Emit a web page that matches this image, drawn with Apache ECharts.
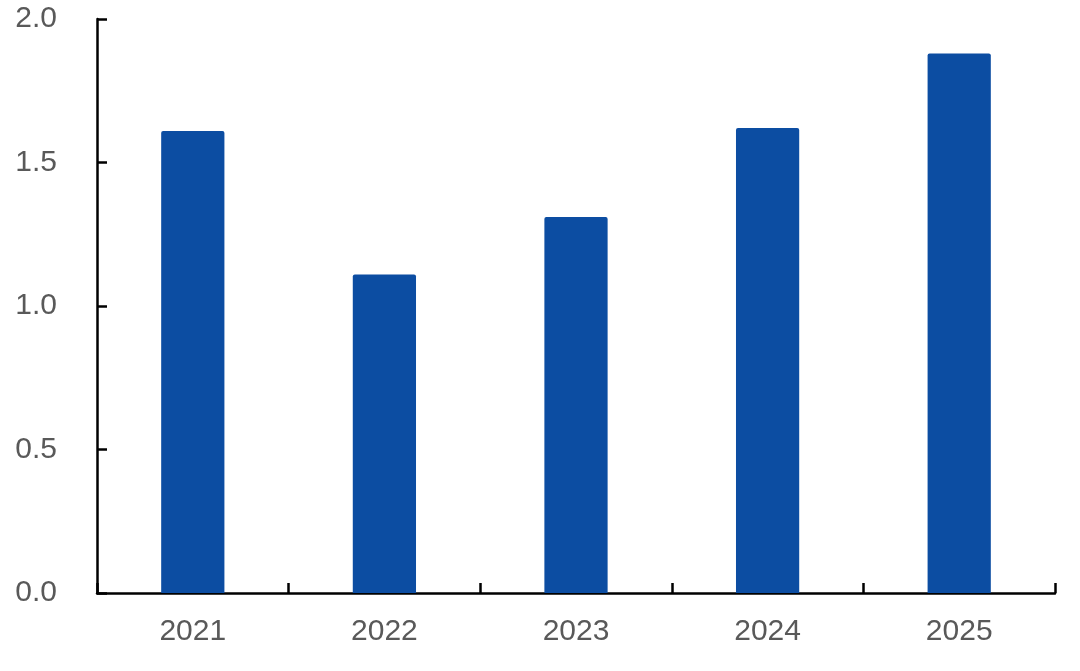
<!DOCTYPE html>
<html><head><meta charset="utf-8">
<script src="https://cdn.jsdelivr.net/npm/echarts@6/dist/echarts.min.js"></script>
<style>html,body{margin:0;padding:0;background:#fff}#c{width:1080px;height:671px}</style>
</head><body><div id="c"></div>
<script>
const categories = ['2021', '2022', '2023', '2024', '2025'];
const values = [1.61, 1.11, 1.31, 1.62, 1.88];
const yTickLabels = ['0.0', '0.5', '1.0', '1.5', '2.0'];

const chart = echarts.init(document.getElementById('c'), null, {renderer: 'canvas'});
chart.setOption({
  animation: false,
  grid: {left: 97, right: 25, top: 19, bottom: 78},
  xAxis: {
    type: 'category',
    data: categories,
    axisLine: {lineStyle: {color: '#000', width: 2.5}},
    axisTick: {show: true, inside: true, length: 10, lineStyle: {color: '#000', width: 2.5}},
    axisLabel: {color: '#595959', fontSize: 30, fontFamily: 'Liberation Sans, Arial', margin: 24}
  },
  yAxis: {
    type: 'value',
    min: 0, max: 2, interval: 0.5,
    splitLine: {show: false},
    axisLine: {show: true, lineStyle: {color: '#000', width: 2.5}},
    axisTick: {show: true, inside: true, length: 10, lineStyle: {color: '#000', width: 2.5}},
    axisLabel: {
      color: '#595959', fontSize: 30, fontFamily: 'Liberation Sans, Arial', margin: 40,
      formatter: function (v) { return yTickLabels[Math.round(v / 0.5)]; }
    }
  },
  series: [{
    type: 'bar',
    data: values,
    barWidth: '33%',
    itemStyle: {color: '#0c4da2', borderRadius: [2, 2, 0, 0]}
  }]
});
</script></body></html>
